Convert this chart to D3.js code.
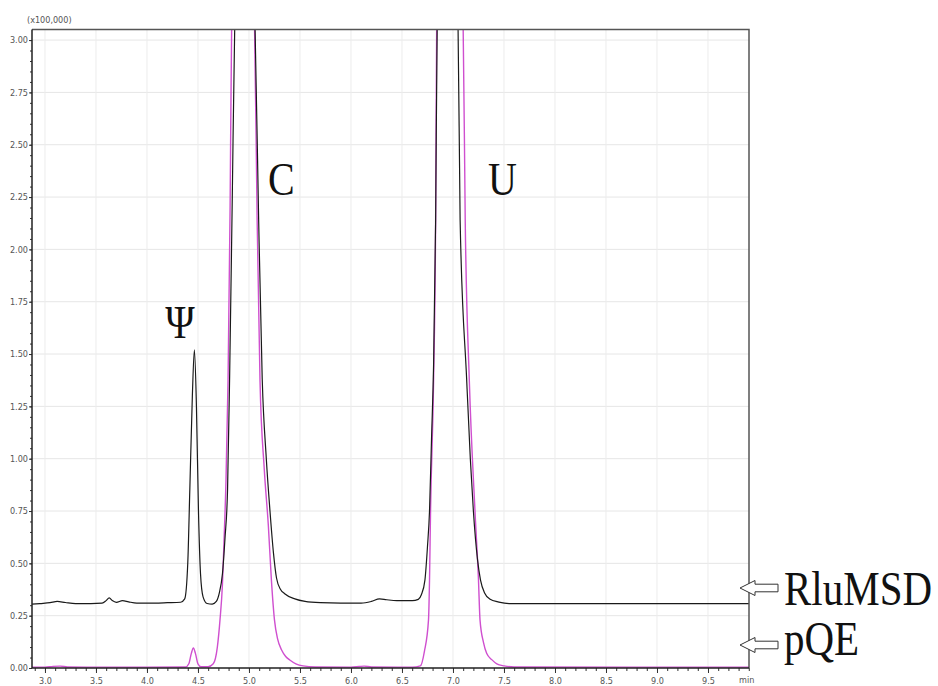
<!DOCTYPE html>
<html>
<head>
<meta charset="utf-8">
<script src="https://cdn.jsdelivr.net/npm/d3@7"></script>
<style>
  body { margin: 0; background: #fff; }
  .tick text { font-family: "Liberation Sans Narrow", "DejaVu Sans Condensed", sans-serif; font-size: 9px; fill: #555; }
  .serif { font-family: "Liberation Serif", "DejaVu Serif", serif; fill: #111; }
</style>
</head>
<body>
<script>
// retention time (min) and signal (x100,000)
var rluTime = [2.873, 2.95, 3.05, 3.12, 3.2, 3.3, 3.45, 3.56, 3.6, 3.63, 3.66, 3.7, 3.76, 3.82, 3.9, 4.0, 4.2, 4.33,
  4.37, 4.40, 4.42, 4.445, 4.465, 4.485, 4.505, 4.525, 4.55, 4.59, 4.64, 4.68, 4.71, 4.74, 4.765, 4.79, 4.81, 4.835,
  4.86, 4.9, 4.96, 5.02, 5.06, 5.095, 5.13, 5.17, 5.206, 5.24, 5.27, 5.31, 5.35, 5.45, 5.55, 5.7, 5.9, 6.1, 6.2,
  6.28, 6.35, 6.45, 6.6, 6.66, 6.69, 6.725, 6.75, 6.77, 6.79, 6.81, 6.83, 6.845, 6.9, 6.95, 7.0, 7.05, 7.07, 7.134,
  7.17, 7.2, 7.24, 7.27, 7.31, 7.36, 7.45, 7.55, 8.0, 9.0, 9.902];
var rluSignal = [0.305, 0.308, 0.312, 0.318, 0.313, 0.308, 0.308, 0.310, 0.322, 0.335, 0.322, 0.314, 0.322, 0.316, 0.310, 0.310, 0.312, 0.314,
  0.33, 0.50, 0.85, 1.30, 1.52, 1.25, 0.75, 0.45, 0.34, 0.308, 0.305, 0.318, 0.36, 0.45, 0.62, 0.85, 1.38, 2.2,
  3.05, 3.5, 3.7, 3.5, 3.05, 2.14, 1.38, 1.0, 0.75, 0.55, 0.43, 0.375, 0.355, 0.33, 0.318, 0.312, 0.31, 0.31, 0.318,
  0.33, 0.326, 0.322, 0.322, 0.328, 0.35, 0.42, 0.58, 0.75, 1.1, 1.45, 2.14, 3.05, 3.6, 3.7, 3.5, 3.05, 2.14, 1.38,
  1.0, 0.75, 0.52, 0.42, 0.358, 0.33, 0.315, 0.308, 0.308, 0.308, 0.308];

var pqeTime = [2.873, 3.0, 3.08, 3.15, 3.22, 3.5, 4.0, 4.38, 4.41, 4.435, 4.455, 4.475, 4.50, 4.53, 4.6, 4.65, 4.69,
  4.716, 4.74, 4.755, 4.775, 4.795, 4.815, 4.83, 4.88, 4.95, 5.0, 5.055, 5.08, 5.108, 5.15, 5.19, 5.22, 5.25, 5.28,
  5.32, 5.36, 5.40, 5.46, 5.53, 5.65, 6.0, 6.08, 6.13, 6.2, 6.6, 6.68, 6.72, 6.76, 6.77, 6.78, 6.81, 6.83, 6.84,
  6.9, 6.97, 7.05, 7.10, 7.12, 7.16, 7.216, 7.25, 7.265, 7.30, 7.33, 7.38, 7.43, 7.5, 7.6, 9.902];
var pqeSignal = [0.004, 0.004, 0.008, 0.009, 0.005, 0.004, 0.004, 0.005, 0.02, 0.07, 0.096, 0.07, 0.02, 0.006, 0.006, 0.02, 0.10,
  0.23, 0.40, 0.6, 0.9, 1.376, 2.2, 3.05, 3.6, 3.7, 3.5, 3.05, 2.14, 1.376, 0.95, 0.68, 0.42, 0.23, 0.14,
  0.086, 0.055, 0.038, 0.02, 0.01, 0.005, 0.004, 0.007, 0.009, 0.005, 0.004, 0.01, 0.08, 0.23, 0.42, 0.747, 1.376, 2.14, 3.05,
  3.6, 3.7, 3.5, 3.05, 2.14, 1.376, 0.747, 0.42, 0.23, 0.12, 0.07, 0.04, 0.02, 0.01, 0.005, 0.004];

var xTicks = [3.0, 3.5, 4.0, 4.5, 5.0, 5.5, 6.0, 6.5, 7.0, 7.5, 8.0, 8.5, 9.0, 9.5];
var yTicks = [0, 0.25, 0.5, 0.75, 1.0, 1.25, 1.5, 1.75, 2.0, 2.25, 2.5, 2.75, 3.0];

var peakNames = ["\u03A8", "C", "U"];
var peakTime = [4.18, 5.186, 7.343];
var peakLevel = [1.577, 2.26, 2.26];

var seriesNames = ["RluMSD", "pQE"];
var seriesLevel = [0.30, 0.07];

var width = 938, height = 686;
var plot = {left: 32, right: 749, top: 29.6, bottom: 668};

var svg = d3.select("body").append("svg")
  .attr("width", width)
  .attr("height", height);

svg.append("rect").attr("width", width).attr("height", height).attr("fill", "#fff");

var x = d3.scaleLinear().domain([2.873, 9.902]).range([plot.left, plot.right]);
var y = d3.scaleLinear().domain([0, 3.05]).range([plot.bottom, plot.top]);

// grid
svg.append("g").selectAll("line.h").data(yTicks.filter(function(d) { return d > 0; }))
  .enter().append("line")
  .attr("x1", plot.left).attr("x2", plot.right)
  .attr("y1", function(d) { return y(d); }).attr("y2", function(d) { return y(d); })
  .attr("stroke", "#e6e6e6").attr("stroke-width", 1);

svg.append("g").selectAll("line.v").data(xTicks)
  .enter().append("line")
  .attr("y1", plot.top).attr("y2", plot.bottom)
  .attr("x1", function(d) { return x(d); }).attr("x2", function(d) { return x(d); })
  .attr("stroke", "#ececec").attr("stroke-width", 1);

// traces
svg.append("clipPath").attr("id", "clip")
  .append("rect")
  .attr("x", plot.left).attr("y", plot.top)
  .attr("width", plot.right - plot.left).attr("height", plot.bottom - plot.top);

var line = d3.line()
  .x(function(d) { return x(d[0]); })
  .y(function(d) { return y(d[1]); })
  .curve(d3.curveMonotoneX);

var pqe = d3.zip(pqeTime, pqeSignal);
var rlu = d3.zip(rluTime, rluSignal);

svg.append("path").datum(pqe)
  .attr("clip-path", "url(#clip)")
  .attr("d", line)
  .attr("fill", "none")
  .attr("stroke", "#cf4fcf")
  .attr("stroke-width", 1.4);

svg.append("path").datum(rlu)
  .attr("clip-path", "url(#clip)")
  .attr("d", line)
  .attr("fill", "none")
  .attr("stroke", "#1a1a1a")
  .attr("stroke-width", 1.2);

// axes
var minorX = d3.range(29, 100).map(function(d) { return d / 10; });
var minorY = d3.range(0, 61).map(function(d) { return d / 20; });

svg.append("g")
  .attr("transform", "translate(0," + plot.bottom + ")")
  .call(d3.axisBottom(x).tickValues(minorX).tickSize(3).tickFormat(""))
  .call(function(g) { g.select(".domain").remove(); g.selectAll("line").attr("stroke", "#333"); });

svg.append("g")
  .attr("transform", "translate(0," + plot.bottom + ")")
  .call(d3.axisBottom(x).tickValues(xTicks).tickSize(5).tickPadding(5).tickFormat(d3.format(".1f")))
  .call(function(g) { g.select(".domain").remove(); g.selectAll("line").attr("stroke", "#333"); });

svg.append("g")
  .attr("transform", "translate(" + plot.left + ",0)")
  .call(d3.axisLeft(y).tickValues(minorY).tickSize(2).tickFormat(""))
  .call(function(g) { g.select(".domain").remove(); g.selectAll("line").attr("stroke", "#333"); });

svg.append("g")
  .attr("transform", "translate(" + plot.left + ",0)")
  .call(d3.axisLeft(y).tickValues(yTicks).tickSize(3).tickPadding(1).tickFormat(d3.format(".2f")))
  .call(function(g) { g.select(".domain").remove(); g.selectAll("line").attr("stroke", "#333"); });

// frame
svg.append("path")
  .attr("d", "M" + plot.left + "," + plot.top + "H" + plot.right + "V" + plot.bottom)
  .attr("fill", "none").attr("stroke", "#555").attr("stroke-width", 1.5);
svg.append("path")
  .attr("d", "M" + plot.left + "," + plot.top + "V" + plot.bottom + "H" + plot.right)
  .attr("fill", "none").attr("stroke", "#222").attr("stroke-width", 1.5);

svg.append("text")
  .attr("x", 27).attr("y", 23)
  .attr("font-family", "Liberation Sans Narrow, DejaVu Sans Condensed, sans-serif")
  .attr("font-size", 9).attr("fill", "#555")
  .text("(x100,000)");

svg.append("text")
  .attr("x", 739).attr("y", 683)
  .attr("font-family", "Liberation Sans Narrow, DejaVu Sans Condensed, sans-serif")
  .attr("font-size", 9).attr("fill", "#555")
  .text("min");

// peak labels
peakNames.forEach(function(name, i) {
  svg.append("text")
    .attr("class", "serif")
    .attr("transform", "translate(" + x(peakTime[i]) + "," + y(peakLevel[i]) + ") scale(1,1.15)")
    .attr("font-size", 40)
    .text(name);
});

// series labels with hollow arrows
seriesNames.forEach(function(name, i) {
  var cy = i === 0 ? 588 : 645;
  var tip = plot.right - 9;
  var g = svg.append("g").attr("transform", "translate(" + tip + "," + cy + ")");
  g.append("path")
    .attr("d", "M0,0 L15,-7.5 L15,-3.8 L38,-3.8 L38,3.8 L15,3.8 L15,7.5 Z")
    .attr("fill", "#fff").attr("stroke", "#333").attr("stroke-width", 1);
  svg.append("text")
    .attr("class", "serif")
    .attr("transform", "translate(784," + (cy + (i === 0 ? 17 : 10)) + ") scale(1,1.2)")
    .attr("font-size", 41)
    .text(name);
});
</script>
</body>
</html>
